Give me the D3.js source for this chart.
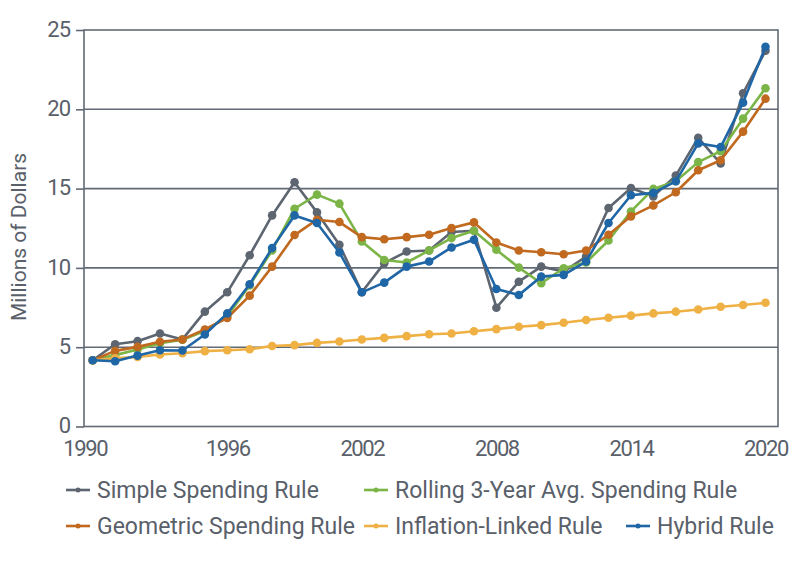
<!DOCTYPE html>
<html><head><meta charset="utf-8">
<script src="https://cdn.jsdelivr.net/npm/d3@7"></script>
<style>
body{margin:0;background:#fff;}
text{font-family:Roboto,"Noto Sans",sans-serif;fill:#59606a;}
</style></head><body>
<svg id="c" width="800" height="563"></svg>
<script>
const years = d3.range(1990, 2021);
const simple = [4.18,5.19,5.38,5.86,5.49,7.24,8.46,10.8,13.31,15.4,13.5,11.46,8.46,10.3,11.03,11.1,12.26,12.34,7.49,9.13,10.08,9.77,10.72,13.78,15.04,14.51,15.82,18.2,16.58,21.01,23.69];
const rolling = [4.18,4.5,4.85,5.25,5.47,6.02,6.95,8.9,11.1,13.73,14.62,14.05,11.67,10.5,10.34,11.1,11.88,12.34,11.14,10.02,9.03,9.98,10.34,11.73,13.56,14.98,15.46,16.67,17.36,19.41,21.33];
const geometric = [4.18,4.77,5.02,5.34,5.49,6.12,6.84,8.25,10.08,12.07,13.04,12.89,11.94,11.81,11.94,12.09,12.51,12.87,11.6,11.1,10.99,10.86,11.1,12.09,13.25,13.94,14.77,16.16,16.79,18.59,20.67];
const inflation = [4.18,4.3,4.39,4.54,4.62,4.75,4.81,4.87,5.08,5.13,5.27,5.36,5.49,5.59,5.7,5.82,5.86,6.01,6.14,6.29,6.39,6.54,6.71,6.86,6.99,7.13,7.24,7.38,7.55,7.66,7.8];
const hybrid = [4.18,4.11,4.47,4.81,4.79,5.8,7.13,8.97,11.25,13.31,12.83,10.97,8.46,9.07,10.08,10.4,11.29,11.77,8.67,8.29,9.45,9.56,10.4,12.83,14.58,14.73,15.46,17.85,17.62,20.42,23.94];
const xTicks = [1990,1996,2002,2008,2014,2020];
const yTicks = [0,5,10,15,20,25];
const seriesNames = ["Simple Spending Rule","Rolling 3-Year Avg. Spending Rule","Geometric Spending Rule","Inflation-Linked Rule","Hybrid Rule"];
const seriesColors = ["#5d6570","#7cb547","#c0691f","#efb044","#1f66a6"];
const seriesData = [simple, rolling, geometric, inflation, hybrid];

const svg = d3.select("#c");
const pL=84, pR=778, pT=30, pB=426.5;
const x = d3.scaleLinear().domain([1990,2020]).range([92.7,765.5]);
const y = d3.scaleLinear().domain([0,25]).range([pB, pT]);
const axisColor = "#626a74";

svg.append("g").selectAll("line").data(yTicks.filter(v=>v>0 && v<25)).join("line")
  .attr("x1",pL).attr("x2",pR).attr("y1",d=>y(d)).attr("y2",d=>y(d))
  .attr("stroke",axisColor).attr("stroke-width",1.6);
svg.append("rect").attr("x",pL).attr("y",pT).attr("width",pR-pL).attr("height",pB-pT)
  .attr("fill","none").attr("stroke",axisColor).attr("stroke-width",1.6);

const ya = svg.append("g").attr("transform",`translate(${pL},0)`)
  .call(d3.axisLeft(y).tickValues(yTicks).tickSize(8).tickPadding(6));
ya.select(".domain").remove();
ya.selectAll("line").attr("stroke",axisColor).attr("stroke-width",1.6);
ya.selectAll("text").style("font-size","22px").style("letter-spacing","-1px").attr("fill","#59606a")
  .attr("dy","0.28em");

const xa = svg.append("g").attr("transform",`translate(0,${pB})`)
  .call(d3.axisBottom(x).tickValues(xTicks).tickFormat(d3.format("d")).tickSize(0).tickPadding(14));
xa.select(".domain").remove();
xa.selectAll("text").style("font-size","22px").style("letter-spacing","-1.4px").attr("fill","#59606a")
  .attr("dx",(d,i)=> i===0 ? -8 : 0);

svg.append("text").attr("transform","translate(26,237) rotate(-90)")
  .attr("text-anchor","middle").style("font-size","21px").text("Millions of Dollars");

const line = d3.line().x((d,i)=>x(years[i])).y(d=>y(d));
[0,1,2,3,4].forEach(si=>{
  const g = svg.append("g");
  g.append("path").datum(seriesData[si]).attr("d",line).attr("fill","none")
    .attr("stroke",seriesColors[si]).attr("stroke-width",2.6).attr("stroke-linejoin","round");
  g.selectAll("circle").data(seriesData[si]).join("circle")
    .attr("cx",(d,i)=>x(years[i])).attr("cy",d=>y(d)).attr("r",4.3).attr("fill",seriesColors[si]);
});

const legendPos = [[66,490],[364,490],[66,526],[364,526],[626,526]];
legendPos.forEach((p,i)=>{
  const g = svg.append("g").attr("transform",`translate(${p[0]},${p[1]})`);
  g.append("line").attr("x1",0).attr("x2",24).attr("y1",0).attr("y2",0).attr("stroke",seriesColors[i]).attr("stroke-width",2.6);
  g.append("circle").attr("cx",12).attr("cy",0).attr("r",2.5).attr("fill",seriesColors[i]);
  g.append("text").attr("x",31).attr("y",8).style("font-size","23px").text(seriesNames[i]);
});
</script>
</body></html>
